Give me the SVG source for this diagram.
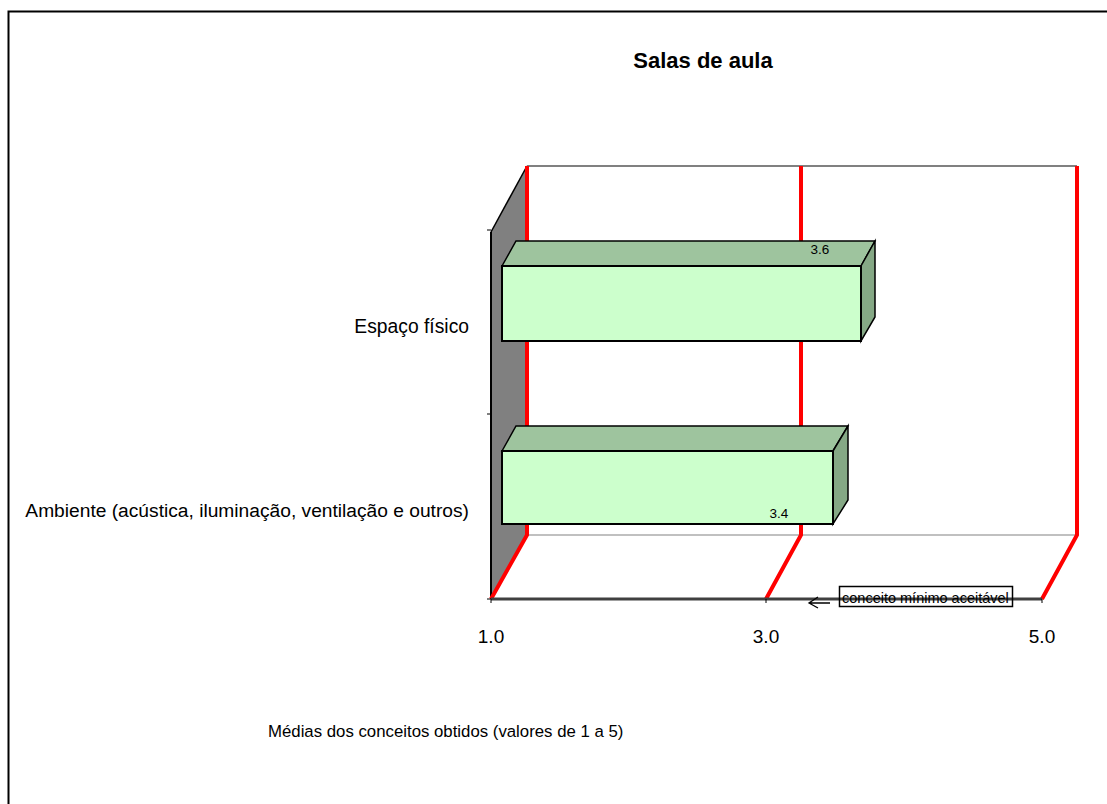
<svg xmlns="http://www.w3.org/2000/svg" width="1107" height="804" viewBox="0 0 1107 804">
<style>
text{font-family:"Liberation Sans",Arial,sans-serif;fill:#000}
.red{stroke:#ff0000;stroke-width:4;fill:none}
.front{fill:#ccffcc;stroke:#000;stroke-width:2}
.top{fill:#9ec49e;stroke:#000;stroke-width:1.5}
.side{fill:#85a885;stroke:#000;stroke-width:1.5}
.ax{stroke:#404040;stroke-width:3}
.tick{stroke:#000;stroke-width:1}
</style>
<rect x="0" y="0" width="1107" height="804" fill="#fff"/>
<path d="M8.5 804 V11.5 H1107" fill="none" stroke="#000" stroke-width="2"/>
<text x="703" y="68" font-size="22" font-weight="bold" text-anchor="middle">Salas de aula</text>
<g id="walls">
<polygon points="491,232 527,166 527,535 491,599" fill="#808080"/>
<line x1="491" y1="232" x2="527" y2="166" stroke="#000" stroke-width="1.5"/>
<line x1="491" y1="232" x2="491" y2="599" stroke="#000" stroke-width="2"/>
<line x1="527" y1="166" x2="1077" y2="166" stroke="#808080" stroke-width="2"/>
<line x1="527" y1="535" x2="1077" y2="535" stroke="#c0c0c0" stroke-width="2"/>
</g>
<g id="gridlines">
<polyline class="red" points="527,166 527,535 491,599"/>
<polyline class="red" points="801,166 801,535 766,599"/>
<polyline class="red" points="1077,166 1077,535 1042,599"/>
</g>
<g id="axes">
<line class="ax" x1="491" y1="599" x2="1042" y2="599"/>
<line class="tick" x1="487" y1="230" x2="491" y2="230"/>
<line class="tick" x1="487" y1="414" x2="491" y2="414"/>
<line class="tick" x1="487" y1="599" x2="491" y2="599"/>
<line class="tick" x1="491" y1="599" x2="491" y2="603"/>
<line class="tick" x1="766" y1="599" x2="766" y2="603"/>
<line class="tick" x1="1042" y1="599" x2="1042" y2="603"/>
</g>
<g id="bar-espaco">
<polygon class="top" points="502,266 516,241 875,241 861,266"/>
<polygon class="side" points="861,266 875,241 875,317 861,341"/>
<rect class="front" x="502" y="266" width="359" height="75"/>
<text x="820" y="254" font-size="13.5" text-anchor="middle">3.6</text>
</g>
<g id="bar-ambiente">
<polygon class="top" points="502,451 516,426 848,426 833,451"/>
<polygon class="side" points="833,451 848,426 848,500 833,524"/>
<rect class="front" x="502" y="451" width="331" height="73"/>
<text x="779" y="518" font-size="13.5" text-anchor="middle">3.4</text>
</g>
<g id="labels">
<text x="469" y="333" font-size="19.3" text-anchor="end">Espaço físico</text>
<text x="469" y="517" font-size="19.2" text-anchor="end">Ambiente (acústica, iluminação, ventilação e outros)</text>
<text x="491" y="643" font-size="19" text-anchor="middle">1.0</text>
<text x="766" y="643" font-size="19" text-anchor="middle">3.0</text>
<text x="1042" y="643" font-size="19" text-anchor="middle">5.0</text>
<text x="268" y="737" font-size="16.8">Médias dos conceitos obtidos (valores de 1 a 5)</text>
</g>
<g id="legend">
<rect x="839.5" y="586.5" width="173" height="20" fill="none" stroke="#000" stroke-width="1.5"/>
<text x="842" y="603" font-size="14.5">conceito mínimo aceitável</text>
<path d="M830 603 H809 M818 597 L809 603 L818 608" fill="none" stroke="#000" stroke-width="1.3"/>
</g>
</svg>
